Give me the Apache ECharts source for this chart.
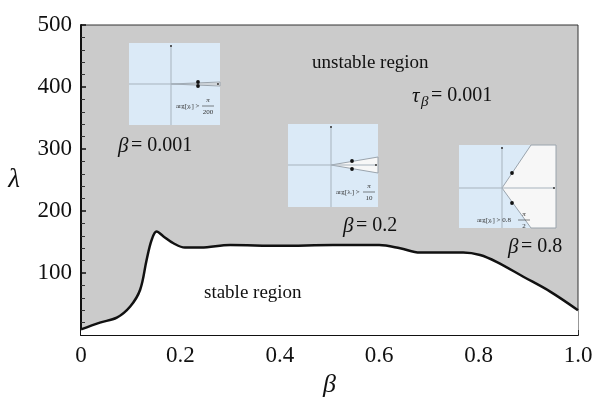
<!DOCTYPE html>
<html>
<head>
<meta charset="utf-8">
<script src="https://cdn.jsdelivr.net/npm/echarts@6/dist/echarts.min.js"></script>
<style>
  html, body { margin: 0; padding: 0; background: #fff; }
  #chart { width: 599px; height: 402px; }
</style>
</head>
<body>
<div id="chart"></div>
<script>
// stability boundary
var betaVals   = [0, 0.038, 0.072, 0.099, 0.119, 0.132, 0.142, 0.152, 0.166, 0.186, 0.209, 0.241, 0.30, 0.40, 0.507, 0.60, 0.642, 0.682, 0.722, 0.769, 0.803, 0.836, 0.890, 0.944, 1.0];
var lambdaVals = [9, 20, 28, 46, 73, 121, 153, 167, 159, 148, 141, 141, 145, 144, 145, 145, 140, 133, 133, 133, 129, 118, 94, 70, 40];
var xTicks = ['0', '0.2', '0.4', '0.6', '0.8', '1.0'];

var serif = '"Liberation Serif", "DejaVu Serif", serif';
var GRAY = '#cbcbcb';
var BLUE = '#dbeaf7';

var myChart = echarts.init(document.getElementById('chart'));

// small pole-plot inset (picture decoration)
function inset(x, y, w, h, ox, oy, opts) {
  var ch = [
    { type: 'rect', shape: { x: x, y: y, width: w, height: h }, style: { fill: BLUE } }
  ];
  if (opts.white) {
    ch.push({ type: 'polygon', shape: { points: opts.white }, style: { fill: '#f7f7f7', stroke: '#9aa4ad', lineWidth: 1 } });
  }
  ch.push({ type: 'line', shape: { x1: ox, y1: y + 2, x2: ox, y2: y + h }, style: { stroke: '#a7b3bd', lineWidth: 1 } });
  ch.push({ type: 'line', shape: { x1: x, y1: oy, x2: x + w - 2, y2: oy }, style: { stroke: '#a7b3bd', lineWidth: 1 } });
  ch.push({ type: 'circle', shape: { cx: ox, cy: y + 3, r: 1 }, style: { fill: '#333' } });
  ch.push({ type: 'circle', shape: { cx: x + w - 2, cy: oy, r: 1 }, style: { fill: '#333' } });
  opts.dots.forEach(function (d) {
    ch.push({ type: 'circle', shape: { cx: d[0], cy: d[1], r: 1.9 }, style: { fill: '#111' } });
  });
  var t = opts.text;
  ch.push({ type: 'text', x: t.x, y: t.y, style: { text: t.pre, font: '7px ' + serif, fill: '#333', verticalAlign: 'middle' } });
  ch.push({ type: 'text', x: t.fx, y: t.y - 6, style: { text: 'π', font: 'italic 7px ' + serif, fill: '#333', align: 'center', verticalAlign: 'middle' } });
  ch.push({ type: 'line', shape: { x1: t.fx - 6, y1: t.y, x2: t.fx + 6, y2: t.y }, style: { stroke: '#333', lineWidth: 0.6 } });
  ch.push({ type: 'text', x: t.fx, y: t.y + 6, style: { text: t.den, font: '7px ' + serif, fill: '#333', align: 'center', verticalAlign: 'middle' } });
  return { type: 'group', children: ch, z: 10 };
}

function label(x, y, text, size, italic) {
  return {
    type: 'text', x: x, y: y, z: 10,
    style: { text: text, font: (italic ? 'italic ' : '') + size + 'px ' + serif, fill: '#111', verticalAlign: 'middle' }
  };
}

var seriesData = betaVals.map(function (b, i) { return [b, lambdaVals[i]]; });

var option = {
  animation: false,
  backgroundColor: '#fff',
  grid: {
    left: 81, right: 21, top: 25, bottom: 67,
    show: true, backgroundColor: GRAY, borderColor: '#333', borderWidth: 1,
    containLabel: false, outerBoundsMode: 'none'
  },
  xAxis: {
    type: 'value', min: 0, max: 1, interval: 0.2,
    name: 'β', nameLocation: 'middle', nameGap: 31,
    nameTextStyle: { fontFamily: serif, fontStyle: 'italic', fontSize: 26, color: '#111' },
    axisLine: { lineStyle: { color: '#111', width: 2 } },
    axisTick: { inside: true, length: 5, lineStyle: { color: '#111', width: 1.5 } },
    minorTick: { show: true, splitNumber: 4, length: 4, lineStyle: { color: '#333', width: 1 } },
    splitLine: { show: false },
    axisLabel: {
      margin: 9, fontFamily: serif, fontSize: 23, color: '#111',
      formatter: function (v) { return xTicks[Math.round(v * 5)]; }
    }
  },
  yAxis: {
    type: 'value', min: 0, max: 500, interval: 100,
    name: 'λ', nameLocation: 'middle', nameGap: 61, nameRotate: 0,
    nameTextStyle: { fontFamily: serif, fontStyle: 'italic', fontSize: 27, color: '#111' },
    axisLine: { show: true, lineStyle: { color: '#111', width: 2 } },
    axisTick: { show: true, inside: true, length: 5, lineStyle: { color: '#111', width: 1.5 } },
    minorTick: { show: true, splitNumber: 5, length: 4, lineStyle: { color: '#333', width: 1 } },
    splitLine: { show: false },
    axisLabel: {
      margin: 9, fontFamily: serif, fontSize: 23, color: '#111',
      formatter: function (v) { return v === 0 ? '' : String(v); }
    }
  },
  series: [{
    type: 'line',
    data: seriesData,
    smooth: 0.35,
    showSymbol: false,
    lineStyle: { color: '#111', width: 2.5 },
    areaStyle: { color: '#fff', opacity: 1, origin: 'start' }
  }],
  graphic: [
    inset(129, 43, 91, 82, 171, 84, {
      white: [[171, 84], [220, 82], [220, 86]],
      dots: [[198, 82], [198, 86]],
      text: { x: 176, y: 106, pre: 'arg[χᵢ] >', den: '200', fx: 208 }
    }),
    inset(288, 124, 90, 83, 331, 165, {
      white: [[331, 165], [378, 157], [378, 173]],
      dots: [[352, 161], [352, 169]],
      text: { x: 336, y: 192, pre: 'arg[λᵢ] >', den: '10', fx: 369 }
    }),
    inset(459, 145, 97, 83, 502, 188, {
      white: [[531, 145], [502, 188], [531, 228], [556, 228], [556, 145]],
      dots: [[512, 173], [512, 203]],
      text: { x: 477, y: 220, pre: 'arg[χᵢ] > 0.8', den: '2', fx: 524 }
    }),
    label(312, 63, 'unstable region', 19),
    label(412, 96, 'τ', 21, true),
    label(421, 102, 'β', 15, true),
    label(431, 96, '= 0.001', 20),
    label(118, 146, 'β', 21, true),
    label(131, 146, '= 0.001', 20),
    label(343, 226, 'β', 21, true),
    label(356, 226, '= 0.2', 20),
    label(508, 247, 'β', 21, true),
    label(521, 247, '= 0.8', 20),
    label(204, 293, 'stable region', 19)
  ]
};
option && myChart.setOption(option);
</script>
</body>
</html>
